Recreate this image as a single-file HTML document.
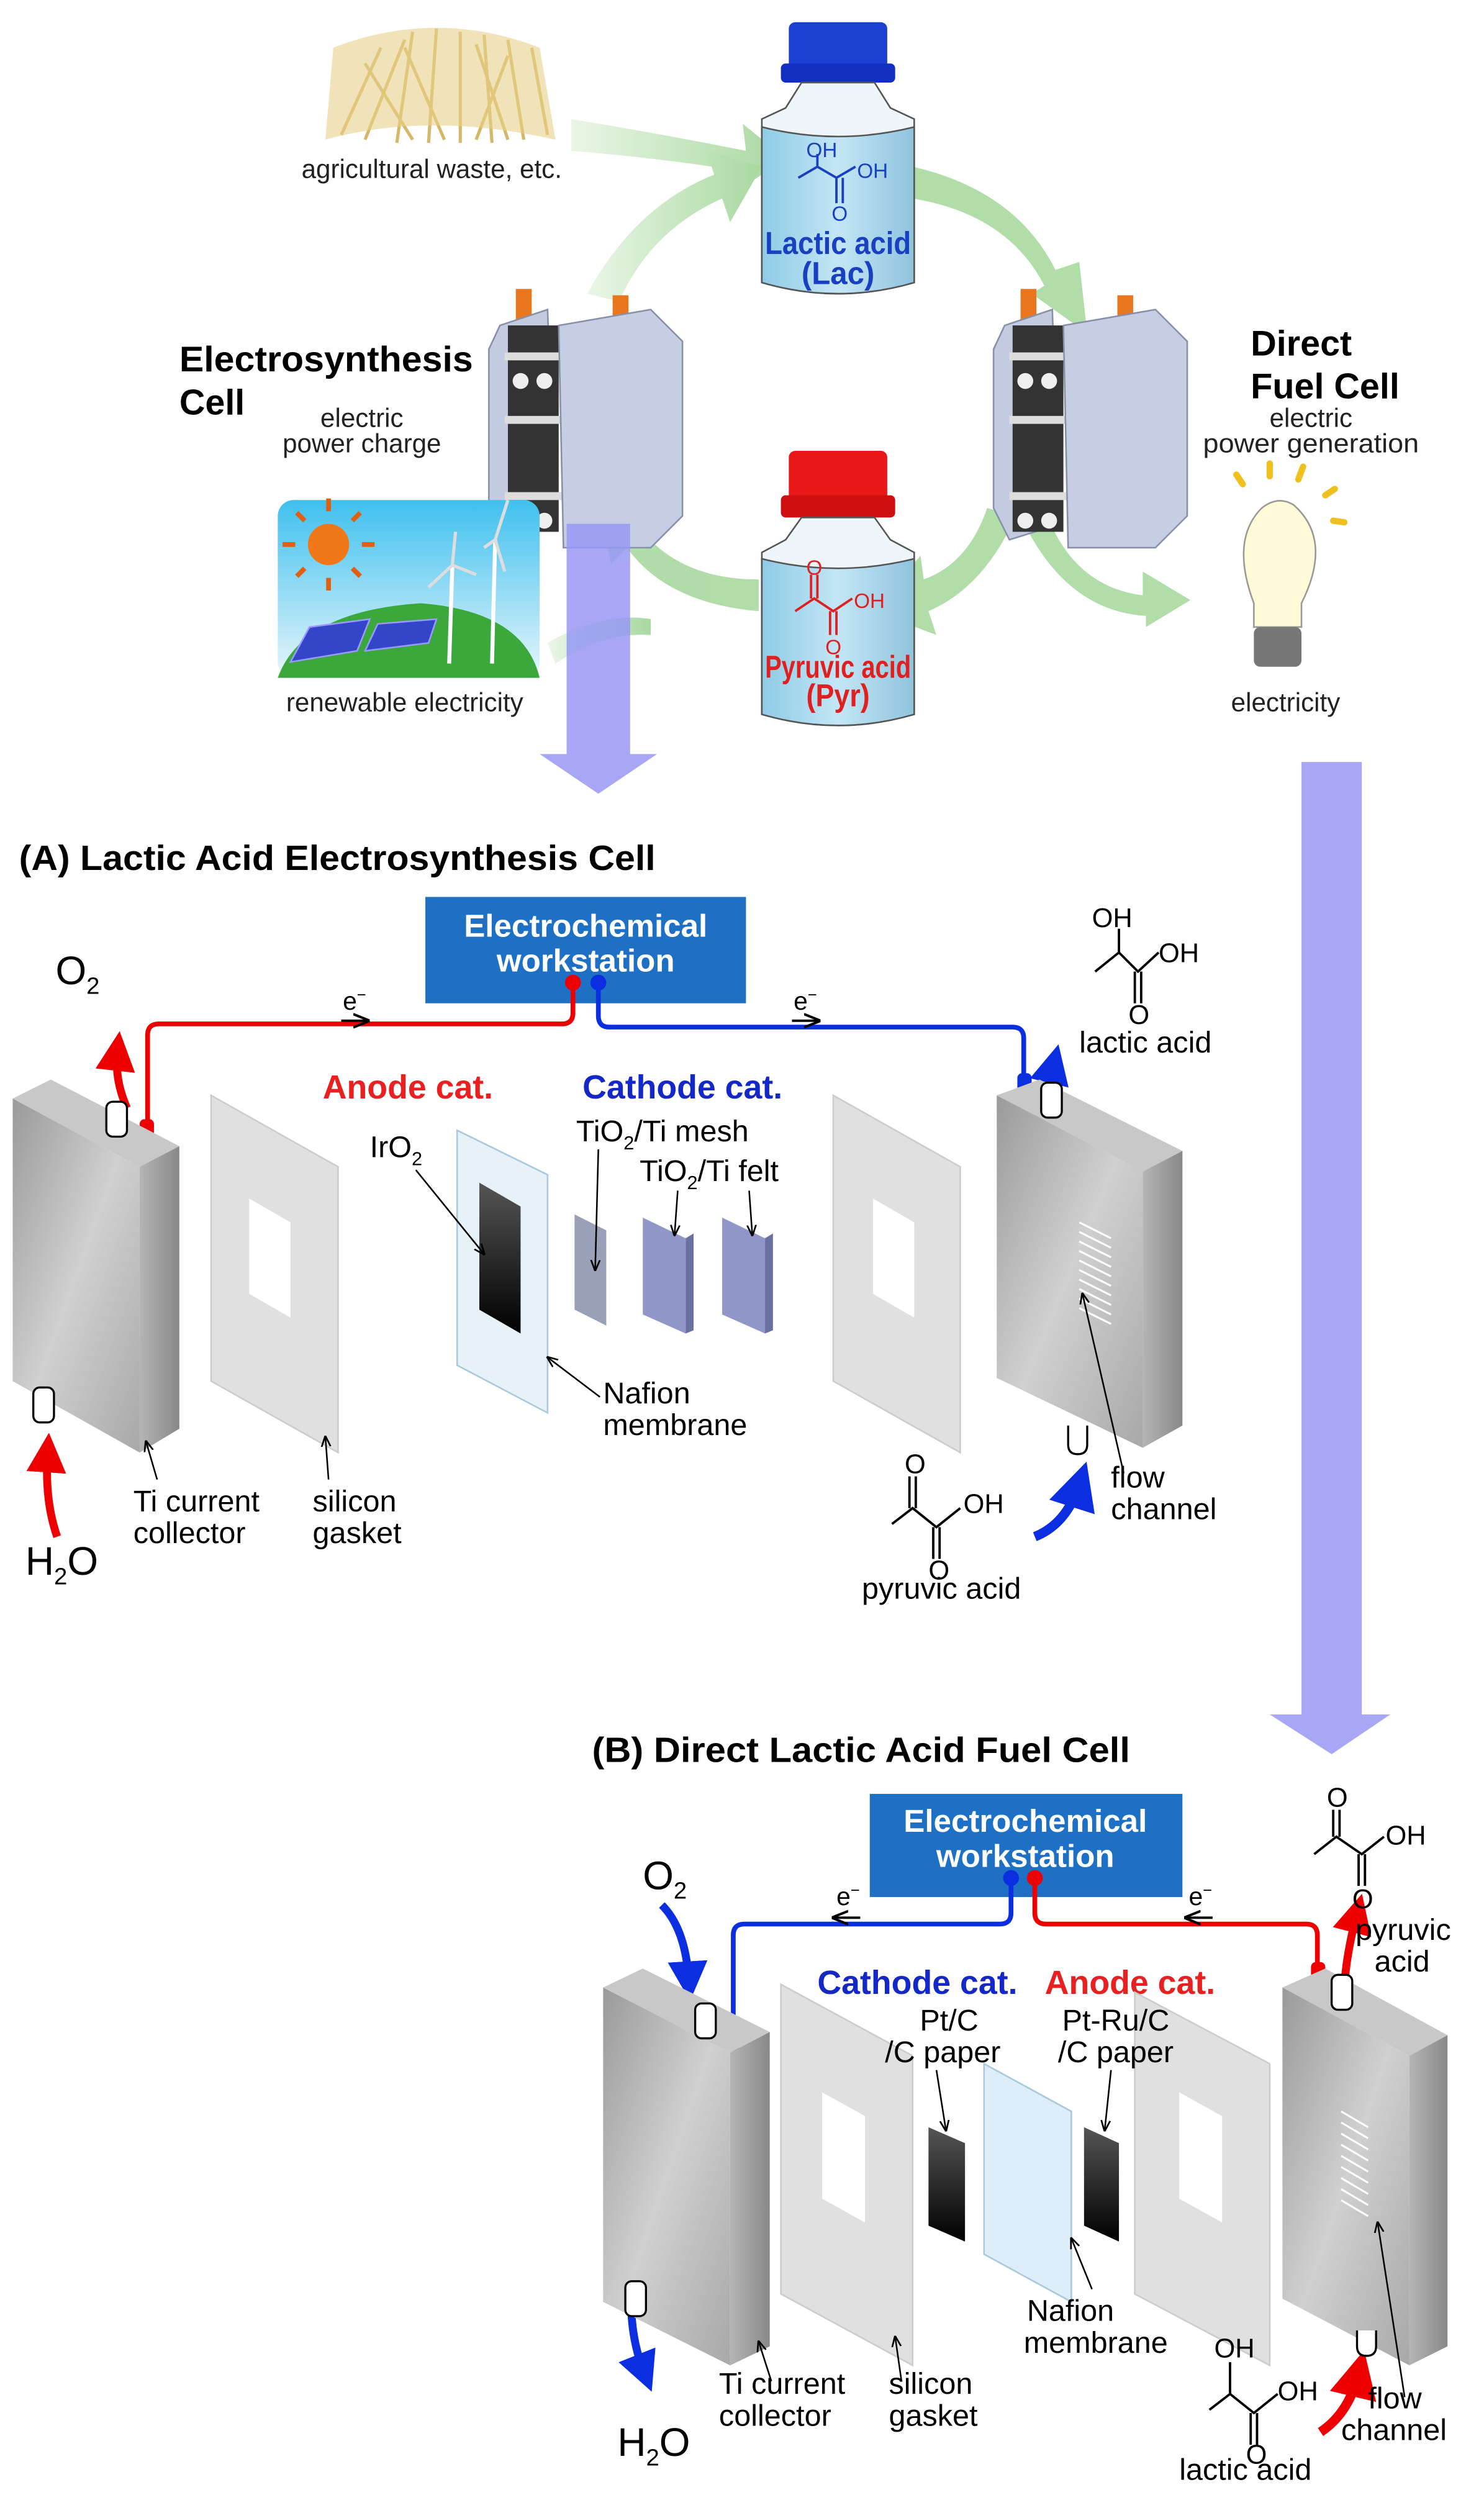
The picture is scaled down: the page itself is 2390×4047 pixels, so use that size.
<!DOCTYPE html>
<html><head><meta charset="utf-8"><style>
html,body{margin:0;padding:0;background:#fff}
svg{display:block}
text{font-family:"Liberation Sans",sans-serif}
</style></head><body>
<svg width="2390" height="4047" viewBox="0 0 935 1583" preserveAspectRatio="none" xmlns="http://www.w3.org/2000/svg">
<defs>
<linearGradient id="gr" x1="0" x2="1"><stop offset="0" stop-color="#e8f5e4"/><stop offset="1" stop-color="#9fd596"/></linearGradient>
<linearGradient id="liq" x1="0" x2="1"><stop offset="0" stop-color="#8fcbe6"/><stop offset=".5" stop-color="#c3e6f5"/><stop offset="1" stop-color="#8fc4de"/></linearGradient>
<linearGradient id="sky" x1="0" y1="0" x2="0" y2="1"><stop offset="0" stop-color="#3fc0ee"/><stop offset="1" stop-color="#e6f6fb"/></linearGradient>
<linearGradient id="face" x1="0" y1="0" x2="1" y2="1"><stop offset="0" stop-color="#9a9a9a"/><stop offset=".5" stop-color="#d0d0d0"/><stop offset="1" stop-color="#a8a8a8"/></linearGradient>
<linearGradient id="side" x1="0" x2="1"><stop offset="0" stop-color="#b5b5b5"/><stop offset="1" stop-color="#888"/></linearGradient>
<linearGradient id="blk" x1="0" y1="0" x2="0" y2="1"><stop offset="0" stop-color="#555"/><stop offset="1" stop-color="#000"/></linearGradient>
<marker id="ar" viewBox="0 0 10 10" refX="5" refY="5" markerWidth="5" markerHeight="5" orient="auto"><path d="M0,0L10,5L0,10z" fill="#e00"/></marker>
<marker id="ab" viewBox="0 0 10 10" refX="5" refY="5" markerWidth="5" markerHeight="5" orient="auto"><path d="M0,0L10,5L0,10z" fill="#0a2ee0"/></marker>
<marker id="ak" viewBox="0 0 10 10" refX="9" refY="5" markerWidth="7" markerHeight="7" orient="auto"><path d="M0,1L10,5L0,9" fill="none" stroke="#000" stroke-width="1.5"/></marker>
</defs>

<g fill="#a9d9a0" opacity=".9">
<path d="M360,75 Q420,85 470,95 L468,78 L495,100 L468,118 L468,108 Q420,100 360,95z" fill="url(#gr)"/>
<path d="M370,185 Q400,130 450,110 L445,95 L480,105 L460,140 L455,125 Q410,145 390,190z" fill="url(#gr)"/>
<path d="M575,105 Q640,120 665,170 L680,165 L685,210 L650,185 L658,180 Q635,135 575,125z"/>
<path d="M640,325 Q620,370 585,385 L590,400 L550,385 L580,350 L582,365 Q610,355 622,320z"/>
<path d="M662,330 Q680,370 720,375 L720,360 L750,378 L722,395 L722,388 Q675,385 648,335z"/>
<path d="M478,385 Q420,380 395,345 L385,355 L378,318 L412,330 L405,335 Q430,365 478,365z"/>
<path d="M345,405 Q380,385 410,390 L410,400 Q380,398 350,418z" fill="url(#gr)"/>
</g>

<g stroke="#d4b868" stroke-width="2" fill="none">
<path d="M215,85 L240,30 M230,88 L255,25 M250,90 L260,20 M270,90 L275,18 M290,90 L290,20 M310,90 L305,22 M330,88 L320,25 M345,85 L335,30 M260,88 L230,40 M300,88 L320,35 M280,88 L255,30 M320,88 L300,28"/>
</g>
<path d="M205,88 Q270,70 350,88 L340,30 Q275,5 210,30z" fill="#e8d08a" opacity=".6"/>
<text x="272" y="112" font-size="16.5" text-anchor="middle" fill="#222">agricultural waste, etc.</text>

<rect x="497" y="14" width="62" height="34" rx="4" fill="#1b3fd0"/>
<rect x="492" y="40" width="72" height="12" rx="3" fill="#1230c0"/>
<path d="M505,52 L495,68 L480,75 L480,178 Q528,192 576,178 L576,75 L561,68 L551,52z" fill="#eef6fa" stroke="#555"/>
<path d="M480,80 Q528,92 576,80 L576,178 Q528,192 480,178z" fill="url(#liq)" stroke="#555"/>
<g stroke="#1840c0" stroke-width="1.5" fill="none"><path d="M503,112 L515,105 L527,112 L539,105 M515,105 L515,97 M527,112 L527,128 M531,112 L531,128"/></g>
<text x="508" y="99" font-size="13" fill="#1840c0">OH</text>
<text x="540" y="112" font-size="13" fill="#1840c0">OH</text>
<text x="524" y="139" font-size="13" fill="#1840c0">O</text>
<text x="528" y="160" font-size="20" font-weight="bold" text-anchor="middle" fill="#1840c0" textLength="92" lengthAdjust="spacingAndGlyphs">Lactic acid</text>
<text x="528" y="179" font-size="20" font-weight="bold" text-anchor="middle" fill="#1840c0" textLength="46" lengthAdjust="spacingAndGlyphs">(Lac)</text>

<rect x="497" y="284" width="62" height="36" rx="4" fill="#e81818"/>
<rect x="492" y="312" width="72" height="14" rx="3" fill="#d01010"/>
<path d="M505,326 L495,340 L480,348 L480,450 Q528,464 576,450 L576,348 L561,340 L551,326z" fill="#eef6fa" stroke="#555"/>
<path d="M480,352 Q528,364 576,352 L576,450 Q528,464 480,450z" fill="url(#liq)" stroke="#555"/>
<g stroke="#e02020" stroke-width="1.5" fill="none"><path d="M501,385 L513,377 L525,385 L537,377 M511,377 L511,362 M515,377 L515,362 M523,385 L523,400 M527,385 L527,400"/></g>
<text x="508" y="362" font-size="13" fill="#e02020">O</text>
<text x="538" y="383" font-size="13" fill="#e02020">OH</text>
<text x="520" y="412" font-size="13" fill="#e02020">O</text>
<text x="528" y="427" font-size="20" font-weight="bold" text-anchor="middle" fill="#e02020" textLength="92" lengthAdjust="spacingAndGlyphs">Pyruvic acid</text>
<text x="528" y="445" font-size="20" font-weight="bold" text-anchor="middle" fill="#e02020" textLength="40" lengthAdjust="spacingAndGlyphs">(Pyr)</text>

<g id="dev">
<rect x="325" y="182" width="10" height="24" fill="#e8761e"/><rect x="386" y="186" width="10" height="22" fill="#e8761e"/>
<path d="M315,205 L345,195 L350,330 L318,340 L308,320 L308,220z" fill="#c2cbe0" stroke="#8890a8"/>
<rect x="320" y="205" width="32" height="130" fill="#333"/>
<rect x="318" y="222" width="40" height="5" fill="#ddd"/><rect x="318" y="262" width="40" height="5" fill="#ddd"/><rect x="318" y="310" width="40" height="5" fill="#ddd"/>
<circle cx="328" cy="240" r="5" fill="#eee"/><circle cx="343" cy="240" r="5" fill="#eee"/><circle cx="328" cy="328" r="5" fill="#eee"/><circle cx="343" cy="328" r="5" fill="#eee"/>
<path d="M352,205 L410,195 L430,215 L430,325 L410,345 L355,345z" fill="#c5cee2" stroke="#8890a8"/>
</g>
<use href="#dev" x="318" y="0"/>

<text x="113" y="234" font-size="22.5" font-weight="bold" fill="#000" textLength="185" lengthAdjust="spacingAndGlyphs">Electrosynthesis</text>
<text x="113" y="261" font-size="22.5" font-weight="bold" fill="#000">Cell</text>
<text x="228" y="269" font-size="16.5" text-anchor="middle" fill="#222">electric</text>
<text x="228" y="285" font-size="16.5" text-anchor="middle" fill="#222">power charge</text>
<text x="788" y="224" font-size="22.5" font-weight="bold" fill="#000">Direct</text>
<text x="788" y="251" font-size="22.5" font-weight="bold" fill="#000">Fuel Cell</text>
<text x="826" y="269" font-size="16.5" text-anchor="middle" fill="#222">electric</text>
<text x="826" y="285" font-size="16.5" text-anchor="middle" fill="#222" textLength="136" lengthAdjust="spacingAndGlyphs">power generation</text>

<rect x="175" y="315" width="165" height="112" rx="10" fill="url(#sky)"/>
<path d="M175,427 Q190,385 265,380 Q330,385 340,427z" fill="#3aa83a"/>
<circle cx="207" cy="343" r="13" fill="#f07818"/>
<g stroke="#e06010" stroke-width="3"><path d="M207,322v-8M207,364v8M186,343h-8M228,343h8M192,328l-5,-5M222,328l5,-5M192,358l-5,5M222,358l5,5"/></g>
<path d="M183,417 L225,410 L233,390 L195,395z" fill="#3345c8" stroke="#99f"/>
<path d="M230,410 L270,405 L275,390 L238,393z" fill="#3345c8" stroke="#99f"/>
<g stroke="#fff" stroke-width="2.5"><path d="M283,418 L285,356 M310,418 L312,340"/></g>
<g stroke="#ddd" stroke-width="2" fill="none"><path d="M285,356 L270,370 M285,356 L300,362 M285,356 L287,335 M312,340 L320,315 M312,340 L305,345 M312,340 L318,360"/></g>
<text x="255" y="448" font-size="16.5" text-anchor="middle" fill="#222">renewable electricity</text>

<path d="M795,320 Q775,340 790,380 L790,395 L820,395 L820,380 Q840,340 815,318 Q805,312 795,320z" fill="#fffbd8" stroke="#999"/>
<rect x="790" y="395" width="30" height="25" rx="4" fill="#777"/>
<g stroke="#f0c020" stroke-width="4" stroke-linecap="round"><path d="M783,305l-4,-6M800,300v-8M818,302l3,-8M835,312l6,-4M840,328l7,1"/></g>
<text x="810" y="448" font-size="16.5" text-anchor="middle" fill="#222">electricity</text>

<g fill="#9898f5" opacity=".85">
<path d="M357,330 H397 V475 H414 L377,500 L340,475 H357z"/>
<path d="M820,480 H858 V1080 H876 L839,1105 L800,1080 H820z"/>
</g>

<!-- (A) -->
<text x="12" y="548" font-size="22" font-weight="bold" fill="#000" textLength="401" lengthAdjust="spacingAndGlyphs">(A) Lactic Acid Electrosynthesis Cell</text>
<rect x="268" y="565" width="202" height="67" fill="#1e70c4"/>
<text x="369" y="590" font-size="20" font-weight="bold" text-anchor="middle" fill="#fff">Electrochemical</text>
<text x="369" y="612" font-size="20" font-weight="bold" text-anchor="middle" fill="#fff">workstation</text>
<text x="35" y="620" font-size="25" fill="#000">O<tspan font-size="15" dy="6">2</tspan></text>
<path d="M361,620 V638 Q361,645 354,645 H100 Q93,645 93,652 V720" fill="none" stroke="#e00" stroke-width="3"/>
<rect x="88" y="705" width="9" height="22" rx="3" fill="#e00"/>
<circle cx="361" cy="619" r="5" fill="#e00"/>
<path d="M377,620 V640 Q377,647 384,647 H638 Q645,647 645,654 V690" fill="none" stroke="#0a2ee0" stroke-width="3"/>
<rect x="641" y="676" width="9" height="22" rx="3" fill="#0a2ee0"/>
<circle cx="377" cy="619" r="5" fill="#0a2ee0"/>
<text x="216" y="636" font-size="16">e<tspan font-size="10" dy="-6">−</tspan></text>
<path d="M215,643 H232" stroke="#000" stroke-width="1.5" marker-end="url(#ak)"/>
<text x="500" y="636" font-size="16">e<tspan font-size="10" dy="-6">−</tspan></text>
<path d="M499,643 H516" stroke="#000" stroke-width="1.5" marker-end="url(#ak)"/>
<path d="M80,698 Q72,680 74,662" fill="none" stroke="#e00" stroke-width="5" marker-end="url(#ar)"/>
<path d="M36,968 Q28,945 30,915" fill="none" stroke="#e00" stroke-width="5" marker-end="url(#ar)"/>
<text x="16" y="992" font-size="25">H<tspan font-size="15" dy="6">2</tspan><tspan dy="-6">O</tspan></text>
<path d="M650,715 Q658,695 664,670" fill="none" stroke="#0a2ee0" stroke-width="5" marker-end="url(#ab)"/>
<path d="M652,968 Q672,960 680,935" fill="none" stroke="#0a2ee0" stroke-width="6" marker-end="url(#ab)"/>

<g stroke="#000" stroke-width="1.5" fill="none"><path d="M690,612 L705,600 L717,612 L730,600 M705,600 L705,585 M715,612 L715,632 M719,612 L719,632"/></g>
<text x="688" y="584" font-size="17">OH</text><text x="730" y="606" font-size="17">OH</text><text x="711" y="645" font-size="17">O</text>
<text x="680" y="663" font-size="19">lactic acid</text>

<text x="257" y="692" font-size="21" font-weight="bold" text-anchor="middle" fill="#e82020">Anode cat.</text>
<text x="430" y="692" font-size="21" font-weight="bold" text-anchor="middle" fill="#1428c8">Cathode cat.</text>

<path d="M8,692 L32,680 L113,722 L88,735z" fill="#c8c8c8"/>
<path d="M8,692 L88,735 L88,915 L8,870z" fill="url(#face)"/>
<path d="M88,735 L113,722 L113,900 L88,915z" fill="url(#side)"/>
<rect x="67" y="694" width="13" height="22" rx="4" fill="#fff" stroke="#000" stroke-width="1.3"/>
<rect x="21" y="874" width="13" height="22" rx="4" fill="#fff" stroke="#000" stroke-width="1.3"/>
<path d="M133,690 L213,735 L213,915 L133,870z" fill="#e0e0e0" stroke="#ccc"/>
<path d="M157,755 L183,770 L183,830 L157,815z" fill="#fff"/>
<path d="M288,712 L345,740 L345,890 L288,860z" fill="#e6f2f8" stroke="#a8c8dc"/>
<path d="M302,745 L328,760 L328,840 L302,825z" fill="url(#blk)"/>
<text x="233" y="729" font-size="19">IrO<tspan font-size="12" dy="5">2</tspan></text>
<path d="M262,737 L305,790" stroke="#000" stroke-width="1" marker-end="url(#ak)"/>
<path d="M378,880 L345,855" stroke="#000" stroke-width="1" marker-end="url(#ak)"/>
<text x="380" y="884" font-size="19">Nafion</text><text x="380" y="904" font-size="19">membrane</text>
<path d="M362,765 L382,775 L382,835 L362,825z" fill="#9aa0b8"/>
<path d="M405,767 L432,780 L432,840 L405,828z" fill="#9096c8"/>
<path d="M432,780 L437,777 L437,838 L432,840z" fill="#6a70a0"/>
<path d="M455,767 L482,780 L482,840 L455,828z" fill="#9096c8"/>
<path d="M482,780 L487,777 L487,838 L482,840z" fill="#6a70a0"/>
<text x="363" y="719" font-size="19">TiO<tspan font-size="12" dy="5">2</tspan><tspan dy="-5">/Ti mesh</tspan></text>
<text x="403" y="744" font-size="19">TiO<tspan font-size="12" dy="5">2</tspan><tspan dy="-5">/Ti felt</tspan></text>
<path d="M377,724 L375,800" stroke="#000" stroke-width="1" marker-end="url(#ak)"/>
<path d="M427,750 L425,778" stroke="#000" stroke-width="1" marker-end="url(#ak)"/>
<path d="M472,750 L474,778" stroke="#000" stroke-width="1" marker-end="url(#ak)"/>
<path d="M525,690 L605,735 L605,915 L525,870z" fill="#e0e0e0" stroke="#ccc"/>
<path d="M550,755 L576,770 L576,830 L550,815z" fill="#fff"/>
<path d="M628,690 L655,680 L745,725 L720,738z" fill="#c8c8c8"/>
<path d="M628,690 L720,738 L720,912 L628,868z" fill="url(#face)"/>
<path d="M720,738 L745,725 L745,898 L720,912z" fill="url(#side)"/>
<g stroke="#fff" stroke-width="1.2"><path d="M680,770 L700,780 M680,776 L700,786 M680,782 L700,792 M680,788 L700,798 M680,794 L700,804 M680,800 L700,810 M680,806 L700,816 M680,812 L700,822 M680,818 L700,828 M680,824 L700,834"/></g>
<rect x="656" y="682" width="13" height="22" rx="4" fill="#fff" stroke="#000" stroke-width="1.3"/>
<path d="M673,898 v12 q0,6 6,6 q6,0 6,-6 v-12" fill="#fff" stroke="#000" stroke-width="1.3"/>
<path d="M708,928 L682,815" stroke="#000" stroke-width="1" marker-end="url(#ak)"/>
<text x="700" y="937" font-size="19">flow</text><text x="700" y="957" font-size="19">channel</text>
<path d="M99,932 L92,908" stroke="#000" stroke-width="1" marker-end="url(#ak)"/>
<path d="M207,932 L205,905" stroke="#000" stroke-width="1" marker-end="url(#ak)"/>
<text x="84" y="952" font-size="19">Ti current</text><text x="84" y="972" font-size="19">collector</text>
<text x="197" y="952" font-size="19">silicon</text><text x="197" y="972" font-size="19">gasket</text>
<g stroke="#000" stroke-width="1.5" fill="none"><path d="M562,960 L575,950 L590,962 L605,950 M573,950 L573,930 M577,950 L577,930 M588,962 L588,982 M592,962 L592,982"/></g>
<text x="570" y="928" font-size="17">O</text><text x="607" y="953" font-size="17">OH</text><text x="585" y="995" font-size="17">O</text>
<text x="543" y="1007" font-size="19">pyruvic acid</text>

<!-- (B) -->
<text x="373" y="1110" font-size="22" font-weight="bold" textLength="339" lengthAdjust="spacingAndGlyphs">(B) Direct Lactic Acid Fuel Cell</text>
<rect x="548" y="1130" width="197" height="65" fill="#1e70c4"/>
<text x="646" y="1154" font-size="20" font-weight="bold" text-anchor="middle" fill="#fff">Electrochemical</text>
<text x="646" y="1176" font-size="20" font-weight="bold" text-anchor="middle" fill="#fff">workstation</text>
<text x="405" y="1190" font-size="25">O<tspan font-size="15" dy="6">2</tspan></text>
<path d="M637,1183 V1205 Q637,1212 630,1212 H469 Q462,1212 462,1219 V1290" fill="none" stroke="#0a2ee0" stroke-width="3"/>
<rect x="457" y="1270" width="9" height="22" rx="3" fill="#0a2ee0"/><circle cx="637" cy="1183" r="5" fill="#0a2ee0"/>
<path d="M652,1183 V1205 Q652,1212 659,1212 H823 Q830,1212 830,1219 V1250" fill="none" stroke="#e00" stroke-width="3"/>
<rect x="826" y="1236" width="9" height="22" rx="3" fill="#e00"/><circle cx="652" cy="1183" r="5" fill="#e00"/>
<text x="527" y="1200" font-size="16">e<tspan font-size="10" dy="-6">−</tspan></text>
<path d="M542,1208 H525" stroke="#000" stroke-width="1.5" marker-end="url(#ak)"/>
<text x="749" y="1200" font-size="16">e<tspan font-size="10" dy="-6">−</tspan></text>
<path d="M764,1208 H747" stroke="#000" stroke-width="1.5" marker-end="url(#ak)"/>
<path d="M417,1200 Q432,1215 434,1248" fill="none" stroke="#0a2ee0" stroke-width="5" marker-end="url(#ab)"/>
<path d="M398,1440 Q396,1470 406,1495" fill="none" stroke="#0a2ee0" stroke-width="5" marker-end="url(#ab)"/>
<text x="389" y="1547" font-size="25">H<tspan font-size="15" dy="6">2</tspan><tspan dy="-6">O</tspan></text>
<path d="M847,1252 Q848,1232 855,1205" fill="none" stroke="#e00" stroke-width="5" marker-end="url(#ar)"/>
<path d="M832,1532 Q850,1520 856,1495" fill="none" stroke="#e00" stroke-width="6" marker-end="url(#ar)"/>
<text x="578" y="1256" font-size="21" font-weight="bold" text-anchor="middle" fill="#1428c8">Cathode cat.</text>
<text x="712" y="1256" font-size="21" font-weight="bold" text-anchor="middle" fill="#e82020">Anode cat.</text>

<path d="M380,1252 L405,1240 L485,1280 L460,1293z" fill="#c8c8c8"/>
<path d="M380,1252 L460,1293 L460,1490 L380,1450z" fill="url(#face)"/>
<path d="M460,1293 L485,1280 L485,1478 L460,1490z" fill="url(#side)"/>
<rect x="438" y="1262" width="13" height="22" rx="4" fill="#fff" stroke="#000" stroke-width="1.3"/>
<rect x="394" y="1437" width="13" height="22" rx="4" fill="#fff" stroke="#000" stroke-width="1.3"/>
<path d="M492,1250 L575,1295 L575,1490 L492,1445z" fill="#e0e0e0" stroke="#ccc"/>
<path d="M518,1318 L545,1333 L545,1400 L518,1385z" fill="#fff"/>
<path d="M585,1340 L608,1350 L608,1412 L585,1402z" fill="url(#blk)"/>
<path d="M620,1300 L675,1330 L675,1450 L620,1420z" fill="#ddeef8" stroke="#a8c8dc"/>
<path d="M683,1340 L705,1350 L705,1412 L683,1402z" fill="url(#blk)"/>
<path d="M715,1255 L800,1300 L800,1490 L715,1445z" fill="#e0e0e0" stroke="#ccc"/>
<path d="M743,1318 L770,1333 L770,1400 L743,1385z" fill="#fff"/>
<path d="M808,1252 L835,1240 L912,1282 L888,1295z" fill="#c8c8c8"/>
<path d="M808,1252 L888,1295 L888,1490 L808,1448z" fill="url(#face)"/>
<path d="M888,1295 L912,1282 L912,1478 L888,1490z" fill="url(#side)"/>
<g stroke="#fff" stroke-width="1.2"><path d="M845,1330 L862,1340 M845,1337 L862,1347 M845,1344 L862,1354 M845,1351 L862,1361 M845,1358 L862,1368 M845,1365 L862,1375 M845,1372 L862,1382 M845,1379 L862,1389 M845,1386 L862,1396"/></g>
<rect x="839" y="1244" width="13" height="22" rx="4" fill="#fff" stroke="#000" stroke-width="1.3"/>
<path d="M855,1468 v10 q0,6 6,6 q6,0 6,-6 v-10" fill="#fff" stroke="#000" stroke-width="1.3"/>

<text x="598" y="1279" font-size="19" text-anchor="middle">Pt/C</text>
<text x="594" y="1299" font-size="19" text-anchor="middle">/C paper</text>
<text x="703" y="1279" font-size="19" text-anchor="middle">Pt-Ru/C</text>
<text x="703" y="1299" font-size="19" text-anchor="middle">/C paper</text>
<path d="M590,1304 L596,1342" stroke="#000" stroke-width="1" marker-end="url(#ak)"/>
<path d="M700,1304 L696,1342" stroke="#000" stroke-width="1" marker-end="url(#ak)"/>
<path d="M688,1442 L675,1410" stroke="#000" stroke-width="1" marker-end="url(#ak)"/>
<text x="647" y="1462" font-size="19">Nafion</text><text x="645" y="1482" font-size="19">membrane</text>
<path d="M486,1500 L478,1475" stroke="#000" stroke-width="1" marker-end="url(#ak)"/>
<path d="M568,1500 L564,1472" stroke="#000" stroke-width="1" marker-end="url(#ak)"/>
<text x="453" y="1508" font-size="19">Ti current</text><text x="453" y="1528" font-size="19">collector</text>
<text x="560" y="1508" font-size="19">silicon</text><text x="560" y="1528" font-size="19">gasket</text>
<path d="M885,1510 L868,1400" stroke="#000" stroke-width="1" marker-end="url(#ak)"/>
<text x="862" y="1517" font-size="19">flow</text><text x="845" y="1537" font-size="19">channel</text>
<g stroke="#000" stroke-width="1.5" fill="none"><path d="M762,1518 L775,1508 L790,1520 L805,1508 M775,1508 L775,1488 M788,1520 L788,1540 M792,1520 L792,1540"/></g>
<text x="765" y="1485" font-size="17">OH</text><text x="805" y="1512" font-size="17">OH</text><text x="785" y="1552" font-size="17">O</text>
<text x="743" y="1562" font-size="19">lactic acid</text>
<g stroke="#000" stroke-width="1.5" fill="none"><path d="M828,1168 L842,1157 L858,1168 L872,1157 M840,1157 L840,1140 M844,1157 L844,1140 M856,1168 L856,1188 M860,1168 L860,1188"/></g>
<text x="836" y="1138" font-size="17">O</text><text x="873" y="1162" font-size="17">OH</text><text x="852" y="1202" font-size="17">O</text>
<text x="854" y="1222" font-size="19">pyruvic</text><text x="866" y="1242" font-size="19">acid</text>
</svg>
</body></html>
